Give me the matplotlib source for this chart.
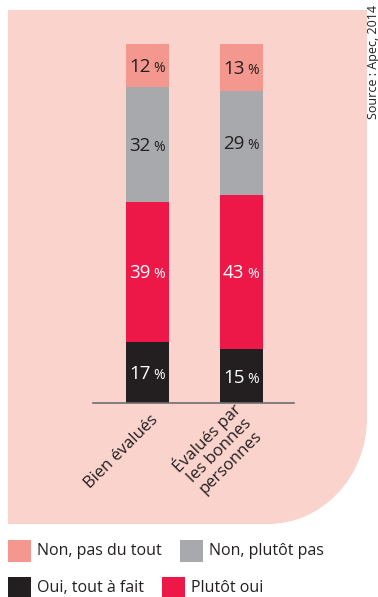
import matplotlib.pyplot as plt
import matplotlib.transforms as mtransforms
from matplotlib.patches import PathPatch, Rectangle
from matplotlib.path import Path
import numpy as np

plt.rcParams['font.family'] = ['Open Sans', 'DejaVu Sans']

# data
categories = ["Bien évalués", "Évalués par\nles bonnes\npersonnes"]
series_names = ["Oui, tout à fait", "Plutôt oui", "Non, plutôt pas", "Non, pas du tout"]
oui_tout_a_fait = [17, 15]
plutot_oui = [39, 43]
non_plutot_pas = [32, 29]
non_pas_du_tout = [12, 13]
series = [oui_tout_a_fait, plutot_oui, non_plutot_pas, non_pas_du_tout]

colors = ["#231F20", "#EE1848", "#A7A9AC", "#F4978E"]
label_colors = ["white", "white", "#231F20", "#231F20"]
bg_color = "#FAD3CC"
text_color = "#231F20"

W, H = 378, 597
fig = plt.figure(figsize=(W / 100, H / 100), dpi=100)


def fx(x):
    return x / W


def fy(y):
    return 1 - y / H


# pink background with big rounded bottom-right corner
k = 0.5523
verts = [(8, 10), (367, 10), (367, 418),
         (367, 418 + k * 106), (268 + k * 99, 524), (268, 524),
         (8, 524), (8, 10)]
codes = [Path.MOVETO, Path.LINETO, Path.LINETO,
         Path.CURVE4, Path.CURVE4, Path.CURVE4,
         Path.LINETO, Path.CLOSEPOLY]
bg = PathPatch(Path([(fx(a), fy(b)) for a, b in verts], codes),
               transform=fig.transFigure, facecolor=bg_color,
               edgecolor="none", zorder=0)
fig.add_artist(bg)

ax = fig.add_axes([fx(93), fy(403), (294 - 93) / W, (403 - 44) / H])
ax.set_facecolor("none")
x = np.arange(len(categories))
width = 0.457

bottom = np.zeros(len(categories))
num_tr = mtransforms.offset_copy(ax.transData, fig=fig, x=3, y=-6.5, units="dots")
pct_tr = mtransforms.offset_copy(ax.transData, fig=fig, x=5.5, y=-6.5, units="dots")
for vals, col, lcol in zip(series, colors, label_colors):
    vals = np.array(vals)
    ax.bar(x, vals, width, bottom=bottom, color=col, zorder=2)
    for xi, v, b in zip(x, vals, bottom):
        yc = b + v / 2
        ax.text(xi, yc, str(v), transform=num_tr, ha="right", va="baseline",
                fontsize=13.5, color=lcol, zorder=3)
        ax.text(xi, yc, "%", transform=pct_tr, ha="left", va="baseline",
                fontsize=10, color=lcol, zorder=3)
    bottom = bottom + vals

ax.set_xlim(-0.58, 1.559)
ax.set_ylim(0, 100)
for s in ["top", "right", "left"]:
    ax.spines[s].set_visible(False)
ax.spines["bottom"].set_color("#6D6E71")
ax.spines["bottom"].set_linewidth(1.2)
ax.set_yticks([])
ax.set_xticks([])

# rotated category labels
lab_tr = mtransforms.offset_copy(
    mtransforms.blended_transform_factory(ax.transData, ax.transAxes),
    fig=fig, x=8, y=-15, units="dots")
for xi, cat in zip(x, categories):
    ax.text(xi, 0, cat, transform=lab_tr, rotation=45, rotation_mode="anchor",
            ha="right", va="center", multialignment="center",
            fontsize=12, color=text_color, linespacing=1.05)

# source
fig.text(fx(373), fy(119), "Source : Apec, 2014", rotation=90,
         ha="center", va="bottom", fontsize=9, color=text_color)

# legend
legend_pos = {
    "Non, pas du tout": (8, 540),
    "Non, plutôt pas": (180, 540),
    "Oui, tout à fait": (8, 577),
    "Plutôt oui": (162, 577),
}
for name, col in zip(series_names, colors):
    lx, ly = legend_pos[name]
    fig.add_artist(Rectangle((fx(lx), fy(ly + 22)), 23 / W, 22 / H,
                             transform=fig.transFigure, facecolor=col,
                             edgecolor="none"))
    fig.text(fx(lx + 29), fy(ly + 11), name, ha="left", va="center",
             fontsize=11.5, color=text_color)

fig.savefig("out.png", dpi=100)
